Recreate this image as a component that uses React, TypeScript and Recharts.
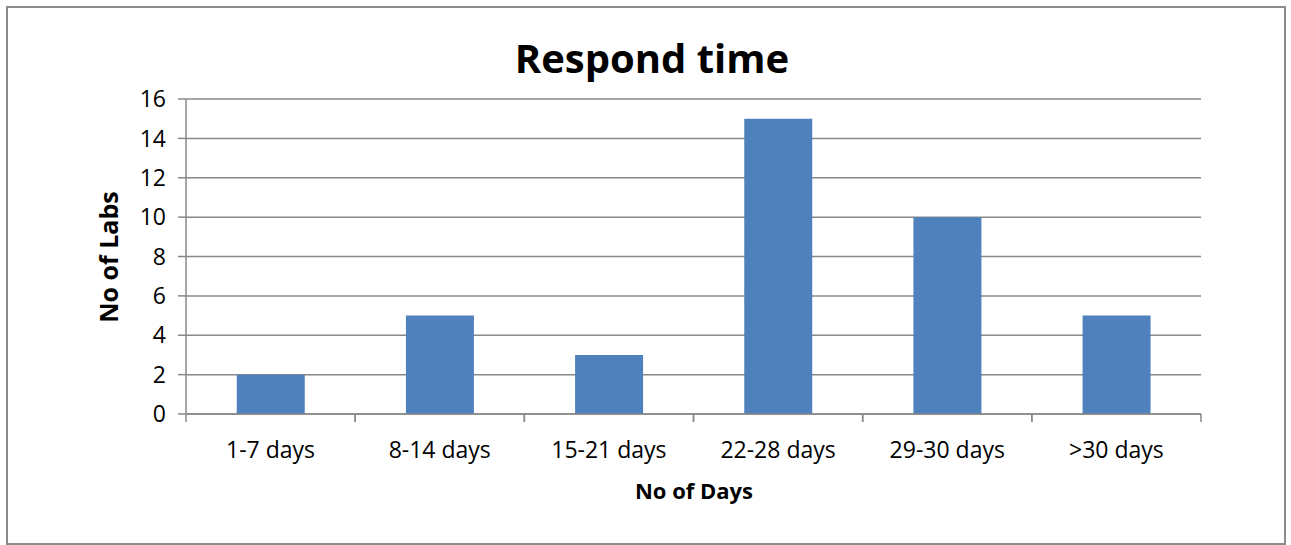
import { Bar, BarChart, CartesianGrid, XAxis, YAxis } from 'recharts'

const categories = ['1-7 days', '8-14 days', '15-21 days', '22-28 days', '29-30 days', '>30 days']
const labCounts = [2, 5, 3, 15, 10, 5]
const yTicks = [0, 2, 4, 6, 8, 10, 12, 14, 16]

const chartData = categories.map((name, i) => ({ name, labs: labCounts[i] }))

const FONT = '"Open Sans", Lato, sans-serif'
const GRAY = '#888888'

// category label plus Excel-style tick marks on the category boundaries
const CategoryTick = (props: any) => {
  const { x, y, payload } = props
  const half = payload.offset ?? 0
  return (
    <g>
      <line x1={x - half} x2={x - half} y1={y} y2={y + 8} stroke={GRAY} strokeWidth={1.5} />
      <line x1={x + half} x2={x + half} y1={y} y2={y + 8} stroke={GRAY} strokeWidth={1.5} />
      <text x={x} y={y + 44} textAnchor="middle" fill="#000" fontSize={23} fontFamily={FONT}>
        {payload.value}
      </text>
    </g>
  )
}

const App = (): React.JSX.Element => {
  return (
    <div style={{ position: 'absolute', left: 0, top: 0, width: 1291, height: 545, fontFamily: FONT }}>
      <div
        style={{
          position: 'absolute',
          left: 6,
          top: 6,
          width: 1276,
          height: 535,
          border: '2px solid #8c8c8c',
          boxSizing: 'content-box'
        }}
      />
      <div
        style={{
          position: 'absolute',
          left: 452,
          width: 400,
          top: 30,
          textAlign: 'center',
          fontSize: 40,
          fontWeight: 700,
          lineHeight: '56px',
          color: '#000'
        }}
      >
        Respond time
      </div>
      <div
        style={{
          position: 'absolute',
          left: 108 - 100,
          top: 257 - 16,
          width: 200,
          textAlign: 'center',
          fontSize: 25,
          fontWeight: 700,
          lineHeight: '32px',
          transform: 'rotate(-90deg)'
        }}
      >
        No of Labs
      </div>
      <div
        style={{
          position: 'absolute',
          left: 694 - 100,
          top: 490 - 15,
          width: 200,
          textAlign: 'center',
          fontSize: 22,
          fontWeight: 700,
          lineHeight: '30px'
        }}
      >
        No of Days
      </div>
      <div style={{ position: 'absolute', left: 0, top: 0 }}>
        <BarChart
          width={1291}
          height={545}
          data={chartData}
          barCategoryGap="30%"
          margin={{ top: 99, right: 90, left: 126, bottom: 101 }}
        >
          <CartesianGrid vertical={false} stroke={GRAY} strokeWidth={1.5} />
          <XAxis
            dataKey="name"
            stroke={GRAY}
            strokeWidth={1.5}
            tickLine={false}
            tickSize={0}
            tickMargin={0}
            height={30}
            interval={0}
            tick={<CategoryTick />}
          />
          <YAxis
            width={60}
            domain={[0, 16]}
            ticks={yTicks}
            stroke={GRAY}
            strokeWidth={1.5}
            tickSize={8}
            tickMargin={12}
            tick={{ fill: '#000', fontSize: 23, fontFamily: FONT }}
          />
          <Bar dataKey="labs" fill="#4F81BD" isAnimationActive={false} />
        </BarChart>
      </div>
    </div>
  )
}

export default App
